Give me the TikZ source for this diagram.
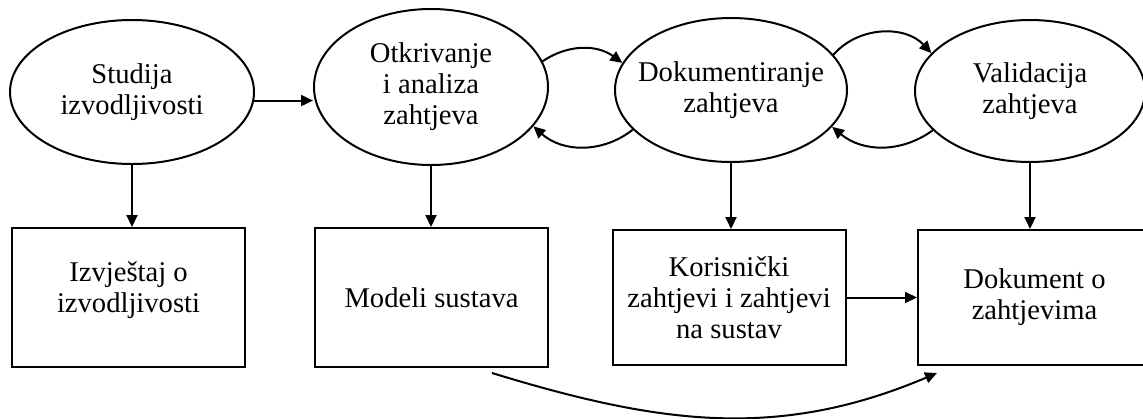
\documentclass[tikz,border=0pt]{standalone}
\usepackage{fontspec}
\setmainfont{Liberation Serif}
\usetikzlibrary{shapes.geometric,arrows.meta}
\begin{document}
\begin{tikzpicture}[x=0.5pt,y=-0.5pt,
  every node/.style={font=\fontsize{14.3}{15.5}\selectfont, align=center, inner sep=0pt},
  every label/.style={font=\fontsize{14.3}{15.5}\selectfont, align=center, inner sep=0pt},
  ell/.style={draw, line width=1pt, ellipse},
  box/.style={draw, line width=1pt, rectangle},
  arr/.style={line width=1pt, -{Triangle[length=6pt,width=5.5pt]}}]
\clip (0,0) rectangle (1143,418);
% ellipses
\node[ell, minimum width=122pt, minimum height=72pt, label=center:{Studija\\izvodljivosti}] (e1) at (132,92) {};
\node[ell, minimum width=117pt, minimum height=78pt, label=center:{Otkrivanje\\i analiza\\zahtjeva}] (e2) at (431,87) {};
\node[ell, minimum width=116pt, minimum height=72pt, label=center:{Dokumentiranje\\zahtjeva}] (e3) at (731,90) {};
\node[ell, minimum width=115pt, minimum height=71pt, label=center:{Validacija\\zahtjeva}] (e4) at (1030,91) {};
% boxes
\node[box, minimum width=116.5pt, minimum height=69.5pt, label={[yshift=3.5pt]center:{Izvještaj o\\izvodljivosti}}] (b1) at (128.5,297.5) {};
\node[box, minimum width=116.5pt, minimum height=69.5pt] (b2) at (431.5,297.5) {Modeli sustava};
\node[box, minimum width=116.5pt, minimum height=67.5pt] (b3) at (729,297.5) {Korisnički\\zahtjevi i zahtjevi\\na sustav};
\node[box, minimum width=116.5pt, minimum height=67.5pt] (b4) at (1034.5,297.5) {Dokument o\\zahtjevima};
% horizontal arrow
\draw[arr] (e1.-4) -- (e1.-4 -| e2.west);
% feedback arcs
\draw[arr] (e2.13) to[bend left=35] (e3.166);
\draw[arr] (e3.202) to[bend left=40] (e2.-21);
\draw[arr] (e3.19) to[bend left=48] (e4.159);
\draw[arr] (e4.202) to[bend left=38] (e3.-20);
% vertical arrows
\draw[arr] (e1.south) -- (e1.south |- b1.north);
\draw[arr] (e2.south) -- (e2.south |- b2.north);
\draw[arr] (e3.south) -- (e3.south |- b3.north);
\draw[arr] (e4.south) -- (e4.south |- b4.north);
% box arrow
\draw[arr] (b3.east) -- (b4.west);
% bottom curve
\coordinate (c1) at (492,373);
\coordinate (c2) at (937,373);
\draw[arr] (c1) to[out=-17,in=203] (c2);
\end{tikzpicture}
\end{document}
